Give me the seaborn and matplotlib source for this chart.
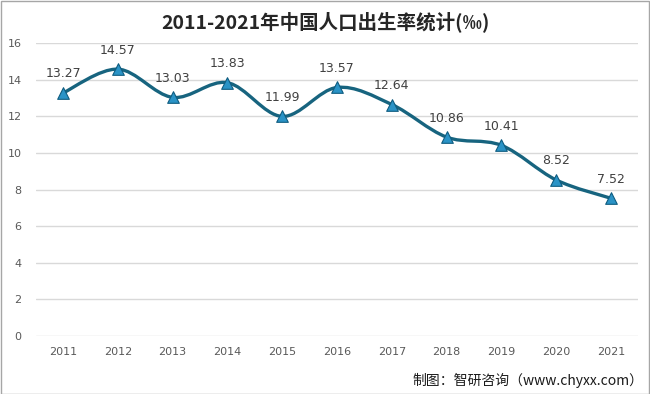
import numpy as np
import pandas as pd
import matplotlib
matplotlib.use("Agg")
import matplotlib.pyplot as plt
import seaborn as sns
from matplotlib.path import Path
from matplotlib.patches import PathPatch, Rectangle

years = ["2011", "2012", "2013", "2014", "2015", "2016", "2017", "2018", "2019", "2020", "2021"]
birth_rate = [13.27, 14.57, 13.03, 13.83, 11.99, 13.57, 12.64, 10.86, 10.41, 8.52, 7.52]
y_ticks = [0, 2, 4, 6, 8, 10, 12, 14, 16]
title = "2011-2021年中国人口出生率统计(‰)"
source = "制图：智研咨询（www.chyxx.com）"

sns.set_theme(style="white")
plt.rcParams['font.family'] = ['Noto Sans CJK SC', 'DejaVu Sans']

df = pd.DataFrame({"year": years, "rate": birth_rate})
df["pos"] = np.arange(len(years))

fig = plt.figure(figsize=(6.5, 3.94), dpi=100)
ax = fig.add_axes([0.0548, 0.147, 0.9274, 0.744])

line_color = "#17647F"
# smooth curve (Excel-style) via cubic Bezier segments in data coordinates
x = df["pos"].to_numpy(dtype=float)
y = df["rate"].to_numpy(dtype=float)
n = len(x)
verts = [(x[0], y[0])]
codes = [Path.MOVETO]
for i in range(n - 1):
    x0, y0 = (x[i - 1], y[i - 1]) if i > 0 else (x[i], y[i])
    x3, y3 = (x[i + 2], y[i + 2]) if i + 2 < n else (x[i + 1], y[i + 1])
    c1 = (x[i] + (x[i + 1] - x0) / 6, y[i] + (y[i + 1] - y0) / 6)
    c2 = (x[i + 1] - (x3 - x[i]) / 6, y[i + 1] - (y3 - y[i]) / 6)
    verts += [c1, c2, (x[i + 1], y[i + 1])]
    codes += [Path.CURVE4, Path.CURVE4, Path.CURVE4]
ax.add_patch(PathPatch(Path(verts, codes), facecolor="none", edgecolor=line_color,
                       lw=2.4, zorder=3, capstyle="round", joinstyle="round"))

sns.scatterplot(data=df, x="pos", y="rate", marker="^", s=70, color="#2A93C6",
                edgecolor="#0F5C80", linewidth=0.8, zorder=4, ax=ax, legend=False)

for xi, yi in zip(x, y):
    ax.annotate(f"{yi:.2f}", (xi, yi), xytext=(0, 9), textcoords="offset points",
                ha="center", va="bottom", fontsize=9, color="#404040",
                family=['DejaVu Sans'])

ax.set_xlim(-0.5, n - 0.5)
ax.set_ylim(0, 16)
ax.set_yticks(y_ticks)
ax.set_yticklabels([str(t) for t in y_ticks])
ax.set_xticks(x)
ax.set_xticklabels(years)
ax.set_xlabel("")
ax.set_ylabel("")
ax.grid(axis="y", color="#D9D9D9", lw=1)
ax.set_axisbelow(True)
for s in ax.spines.values():
    s.set_visible(False)
ax.tick_params(axis="both", length=0, labelsize=8, colors="#595959", pad=8)
ax.tick_params(axis="y", pad=10)
for lab in ax.get_xticklabels() + ax.get_yticklabels():
    lab.set_family(['DejaVu Sans'])

fig.text(0.5, 0.945, title, ha="center", va="center", fontsize=14,
         fontweight="bold", color="#262626")
fig.text(0.99, 0.035, source, ha="right", va="center", fontsize=10, color="#1a1a1a")

fig.patches.append(Rectangle((0.001, 0.001), 0.997, 0.997, transform=fig.transFigure,
                             fill=False, edgecolor="#A6A6A6", lw=1))

fig.savefig("out.png", dpi=100)
